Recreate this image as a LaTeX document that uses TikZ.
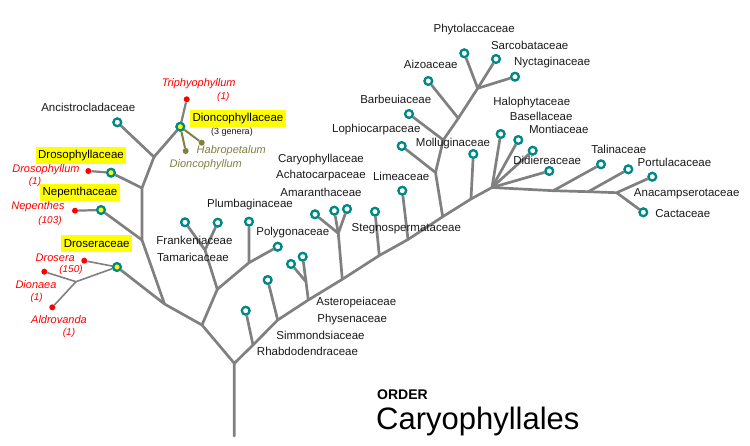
\documentclass[tikz,border=0pt]{standalone}
\usepackage{fontspec}
\setmainfont{Liberation Sans}
\definecolor{br}{RGB}{128,128,128}
\definecolor{tealc}{RGB}{0,136,136}
\definecolor{olivec}{RGB}{128,128,64}
\definecolor{redc}{RGB}{255,0,0}
\definecolor{ylw}{RGB}{255,255,0}
\begin{document}
\begin{tikzpicture}[x=1pt,y=-1pt,
  brl/.style={draw=br,line width=2.7pt},
  thin/.style={draw=br,line width=1.6pt},
  olv/.style={draw=olivec,line width=2pt},
  fam/.style={circle,draw=tealc,fill=white,line width=2.2pt,inner sep=0pt,minimum size=7.6pt},
  famy/.style={fam,fill=ylw},
  gdot/.style={circle,fill=redc,inner sep=0pt,minimum size=6pt},
  odot/.style={circle,fill=olivec,inner sep=0pt,minimum size=6pt},
  lab/.style={font=\fontsize{11.5}{13}\selectfont,text=black!90,inner sep=0pt},
  rlab/.style={font=\fontsize{11}{13}\selectfont\itshape,text=redc,inner sep=0pt},
  rnum/.style={font=\fontsize{10}{12}\selectfont\itshape,text=redc,inner sep=0pt},
  olab/.style={font=\fontsize{11}{13}\selectfont\itshape,text=olivec,inner sep=0pt},
  ybox/.style={font=\fontsize{11.5}{13}\selectfont,fill=ylw,inner xsep=2.5pt,inner ysep=0pt,minimum height=17pt}
]
\useasboundingbox (0,0) rectangle (750,446);
% junction coordinates
\coordinate (root) at (234.3,363.3);
\coordinate (base) at (234.3,436);
\coordinate (jL1) at (202,325);
\coordinate (jL2) at (164.5,304);
\coordinate (jL3) at (142,240);
\coordinate (jL4) at (142,188);
\coordinate (jL5) at (154,157);
\coordinate (jFT) at (217.3,289.3);
\coordinate (jF) at (205,250);
\coordinate (jP) at (249,262.7);
\coordinate (jR) at (253,345);
\coordinate (jS) at (277.7,320);
\coordinate (jA) at (308.3,300);
\coordinate (jA2) at (306,281.7);
\coordinate (jC) at (342.3,279.3);
\coordinate (jC2) at (338.3,233.3);
\coordinate (jSt) at (379.3,255.5);
\coordinate (jLi) at (408,239.5);
\coordinate (jM) at (442.7,216.7);
\coordinate (jM2) at (435.5,172.5);
\coordinate (jB) at (443.3,140);
\coordinate (jAi) at (458.3,118.3);
\coordinate (jPh) at (477.7,88.3);
\coordinate (jMo) at (471,199);
\coordinate (hub) at (492,187.5);
\coordinate (jT) at (553.3,190.7);
\coordinate (jPo) at (588.3,191.7);
\coordinate (jAn) at (616.7,192.7);
\coordinate (jDr) at (76,281.7);
% family circles
\node[fam] (anc) at (117.3,122.3) {};
\node[famy] (dio) at (180.3,126.7) {};
\node[famy] (drp) at (111,172.7) {};
\node[famy] (nep) at (101,210) {};
\node[famy] (dros) at (117,267) {};
\node[fam] (fra) at (185,222.3) {};
\node[fam] (tam) at (217.7,222.7) {};
\node[fam] (plu) at (249,221.7) {};
\node[fam] (pol) at (277.7,246.7) {};
\node[fam] (rha) at (245.7,310.7) {};
\node[fam] (sim) at (267.7,280) {};
\node[fam] (ast) at (291,264) {};
\node[fam] (phy) at (302.7,256.7) {};
\node[fam] (car) at (315,214.3) {};
\node[fam] (ach) at (334.3,210.7) {};
\node[fam] (ama) at (347,209) {};
\node[fam] (ste) at (375,211.7) {};
\node[fam] (lim) at (402.3,190.7) {};
\node[fam] (lop) at (401.7,146) {};
\node[fam] (bar) at (409,114) {};
\node[fam] (aiz) at (428.3,81) {};
\node[fam] (phyt) at (464.3,53.3) {};
\node[fam] (sar) at (496,59) {};
\node[fam] (nyc) at (515,76.7) {};
\node[fam] (mol) at (473.3,154) {};
\node[fam] (hal) at (500.7,134) {};
\node[fam] (bas) at (518.3,140) {};
\node[fam] (mon) at (532.7,150.7) {};
\node[fam] (did) at (549.3,171) {};
\node[fam] (tal) at (601,164.3) {};
\node[fam] (por) at (628.3,169.3) {};
\node[fam] (ana) at (652.3,176.7) {};
\node[fam] (cac) at (643.3,212.3) {};
% genus dots
\node[gdot] (tri) at (186.7,99.3) {};
\node[gdot] (dsp) at (88.3,171) {};
\node[gdot] (nps) at (75,210.7) {};
\node[gdot] (dra) at (84.3,260.7) {};
\node[gdot] (dna) at (44.3,271.7) {};
\node[gdot] (ald) at (52.3,307.3) {};
\node[odot] (hab) at (201.7,142.7) {};
\node[odot] (dcp) at (185.7,151) {};
% branches
\draw[brl,line cap=round,line join=round] (base) -- (root) -- (jL1) -- (jL2) -- (jL3) -- (jL4) -- (jL5) -- (anc);
\draw[brl] (jL5) -- (dio);
\draw[brl] (jL4) -- (drp);
\draw[brl] (jL3) -- (nep);
\draw[brl] (jL2) -- (dros);
\draw[brl,line join=round] (jL1) -- (jFT) -- (jF) -- (fra);
\draw[brl] (jF) -- (tam);
\draw[brl,line join=round] (jFT) -- (jP) -- (plu);
\draw[brl] (jP) -- (pol);
\draw[brl,line join=round] (root) -- (jR) -- (jS) -- (jA) -- (jC) -- (jSt) -- (jLi) -- (jM) -- (jMo) -- (hub);
\draw[brl] (jR) -- (rha);
\draw[brl] (jS) -- (sim);
\draw[brl,line join=round] (jA) -- (jA2) -- (ast);
\draw[brl] (jA2) -- (phy);
\draw[brl,line join=round] (jC) -- (jC2) -- (car);
\draw[brl] (jC2) -- (ach);
\draw[brl] (jC2) -- (ama);
\draw[brl] (jSt) -- (ste);
\draw[brl] (jLi) -- (lim);
\draw[brl,line join=round] (jM) -- (jM2) -- (lop);
\draw[brl,line join=round] (jM2) -- (jB) -- (bar);
\draw[brl,line join=round] (jB) -- (jAi) -- (aiz);
\draw[brl,line join=round] (jAi) -- (jPh) -- (phyt);
\draw[brl] (jPh) -- (sar);
\draw[brl] (jPh) -- (nyc);
\draw[brl] (jMo) -- (mol);
\draw[brl] (hub) -- (hal);
\draw[brl] (hub) -- (bas);
\draw[brl] (hub) -- (mon);
\draw[brl] (hub) -- (did);
\draw[brl,line join=round] (hub) -- (jT) -- (jPo) -- (jAn) -- (ana);
\draw[brl] (jT) -- (tal);
\draw[brl] (jPo) -- (por);
\draw[brl] (jAn) -- (cac);
% genus links
\draw[thin,line width=2.2pt] (dio) -- (tri);
\draw[olv] (dio) -- (hab);
\draw[olv] (dio) -- (dcp);
\draw[thin,line width=2.2pt] (drp) -- (dsp);
\draw[thin,line width=2.2pt] (nep) -- (nps);
\draw[thin] (dros) -- (dra);
\draw[thin] (dros) -- (jDr) -- (dna);
\draw[thin] (jDr) -- (ald);
% family labels
\node[lab] (lanc) at (88.3,107.3) {Ancistrocladaceae};
\node[ybox] (ldio) at (238,118.3) {Dioncophyllaceae};
\node[lab,font=\fontsize{9}{11}\selectfont] (lgen) at (232,132.5) {(3 genera)};
\node[ybox] (ldrp) at (81,155.7) {Drosophyllaceae};
\node[ybox] (lnep) at (80,192.7) {Nepenthaceae};
\node[ybox] (ldros) at (96.7,243.7) {Droseraceae};
\node[lab] (lfra) at (194.5,240) {Frankeniaceae};
\node[lab] (ltam) at (193,257.3) {Tamaricaceae};
\node[lab] (lplu) at (250,205) {Plumbaginaceae};
\node[lab] (lpol) at (292.8,232.7) {Polygonaceae};
\node[lab] (lcar) at (321,159.3) {Caryophyllaceae};
\node[lab] (lach) at (321,176) {Achatocarpaceae};
\node[lab] (lama) at (321,192.3) {Amaranthaceae};
\node[lab] (lste) at (406.3,228.3) {Stegnospermataceae};
\node[lab] (llim) at (401.2,176.7) {Limeaceae};
\node[lab] (llop) at (376.3,130) {Lophiocarpaceae};
\node[lab] (lbar) at (395.8,99.3) {Barbeuiaceae};
\node[lab] (lmol) at (453,144) {Molluginaceae};
\node[lab] (laiz) at (430.7,64) {Aizoaceae};
\node[lab] (lphyt) at (474.2,30) {Phytolaccaceae};
\node[lab] (lsar) at (529.7,45) {Sarcobataceae};
\node[lab] (lnyc) at (552.2,62.3) {Nyctaginaceae};
\node[lab] (lhal) at (531.8,102.7) {Halophytaceae};
\node[lab] (lbas) at (541.2,116.7) {Basellaceae};
\node[lab] (lmon) at (558.8,129.3) {Montiaceae};
\node[lab] (ldid) at (547.2,160.7) {Didiereaceae};
\node[lab] (ltal) at (618.8,149.3) {Talinaceae};
\node[lab] (lpor) at (674.5,162.7) {Portulacaceae};
\node[lab] (lana) at (686.7,194) {Anacampserotaceae};
\node[lab] (lcac) at (682.8,213.3) {Cactaceae};
\node[lab] (last) at (356.3,302.3) {Asteropeiaceae};
\node[lab] (lphy) at (352.2,319.3) {Physenaceae};
\node[lab] (lsim) at (320.5,335) {Simmondsiaceae};
\node[lab] (lrha) at (307.5,351.7) {Rhabdodendraceae};
% genus labels
\node[rlab] (ltri) at (198.7,84) {Triphyophyllum};
\node[rnum] (ltrin) at (223.3,96.7) {(1)};
\node[olab,anchor=west] (lhab) at (196.5,151) {Habropetalum};
\node[olab,anchor=west] (ldcp) at (169.5,165) {Dioncophyllum};
\node[rlab] (ldsp) at (46,169.3) {Drosophyllum};
\node[rnum] (ldspn) at (35,181.7) {(1)};
\node[rlab] (lnps) at (38,206.7) {Nepenthes};
\node[rnum] (lnpsn) at (50,220.7) {(103)};
\node[rlab] (ldra) at (55.3,257.7) {Drosera};
\node[rnum] (ldran) at (71,270) {(150)};
\node[rlab] (ldna) at (36,285) {Dionaea};
\node[rnum] (ldnan) at (36.7,297.7) {(1)};
\node[rlab] (lald) at (59,320) {Aldrovanda};
\node[rnum] (laldn) at (69,333.3) {(1)};
% redraw circles on top of branches
\foreach \n in {anc,fra,tam,plu,pol,rha,sim,ast,phy,car,ach,ama,ste,lim,lop,bar,aiz,phyt,sar,nyc,mol,hal,bas,mon,did,tal,por,ana,cac}
  \node[fam] at (\n) {};
\foreach \n in {dio,drp,nep,dros}
  \node[famy] at (\n) {};
% title
\node[font=\fontsize{14}{16}\selectfont\bfseries,anchor=west,inner sep=0pt] (order) at (377,395) {ORDER};
\node[font=\fontsize{31}{34}\selectfont,anchor=west,inner sep=0pt] (title) at (376,421.7) {Caryophyllales};
\end{tikzpicture}
\end{document}
